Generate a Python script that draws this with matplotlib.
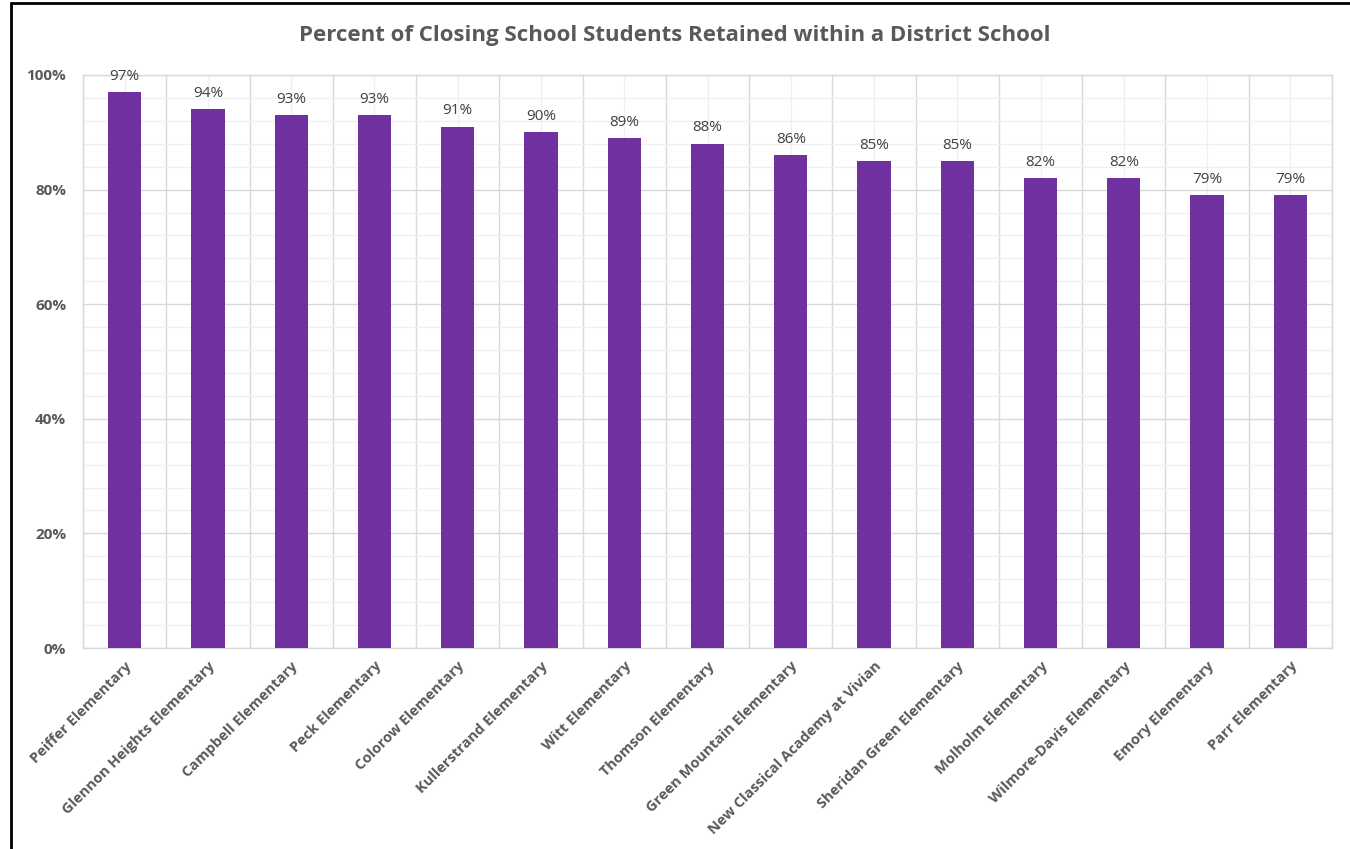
import matplotlib
matplotlib.use("Agg")
import matplotlib.pyplot as plt
from matplotlib.ticker import MultipleLocator, FuncFormatter
from matplotlib.patches import Rectangle

schools = ["Peiffer Elementary", "Glennon Heights Elementary", "Campbell Elementary",
           "Peck Elementary", "Colorow Elementary", "Kullerstrand Elementary",
           "Witt Elementary", "Thomson Elementary", "Green Mountain Elementary",
           "New Classical Academy at Vivian", "Sheridan Green Elementary",
           "Molholm Elementary", "Wilmore-Davis Elementary", "Emory Elementary",
           "Parr Elementary"]
retained = [97, 94, 93, 93, 91, 90, 89, 88, 86, 85, 85, 82, 82, 79, 79]
title = "Percent of Closing School Students Retained within a District School"

plt.rcParams['font.family'] = ['Open Sans', 'DejaVu Sans']

fig = plt.figure(figsize=(13.5, 8.49), dpi=100)
ax = fig.add_axes([83/1350, 1-648/849, (1332-83)/1350, (648-75)/849])

x = list(range(len(schools)))
bars = ax.bar(x, retained, width=0.4, color="#7030A0", zorder=3)
for xi, v in zip(x, retained):
    ax.annotate(f"{v}%", (xi, v), xytext=(0, 6), textcoords="offset points",
                ha="center", va="bottom", fontsize=11, color="#404040")

ax.set_xlim(-0.5, len(schools) - 0.5)
ax.set_ylim(0, 100)
ax.yaxis.set_major_locator(MultipleLocator(20))
ax.yaxis.set_minor_locator(MultipleLocator(4))
ax.yaxis.set_major_formatter(FuncFormatter(lambda v, p: f"{int(v)}%"))
ax.set_xticks(x)
ax.set_xticks([i + 0.5 for i in range(-1, len(schools))], minor=True)
ax.set_xticklabels(schools, rotation=45, ha="right", rotation_mode="anchor",
                   fontsize=10.5, fontweight="bold", color="#595959")
for lbl in ax.get_yticklabels():
    lbl.set_fontsize(11)
    lbl.set_fontweight("bold")
    lbl.set_color("#595959")

ax.tick_params(axis="both", which="both", length=0)
ax.tick_params(axis="y", pad=12)
ax.tick_params(axis="x", pad=8)

ax.grid(axis="y", which="major", color="#d9d9d9", linewidth=1, zorder=1)
ax.grid(axis="y", which="minor", color="#f0f0f0", linewidth=1, zorder=0)
ax.grid(axis="x", which="minor", color="#d9d9d9", linewidth=1, zorder=1)
ax.grid(axis="x", which="major", color="#f0f0f0", linewidth=1, zorder=0)
for s in ax.spines.values():
    s.set_color("#d9d9d9")
    s.set_linewidth(1)

fig.text(0.5, 1 - 36/849, title, ha="center", va="center", fontsize=16,
         fontweight="bold", color="#595959")

fig.patches.append(Rectangle((11/1350, -0.1), 1.2, 1 - 3/849 + 0.1,
                             transform=fig.transFigure, fill=False,
                             edgecolor="black", linewidth=2, zorder=10))

fig.savefig("out.png", dpi=100)
